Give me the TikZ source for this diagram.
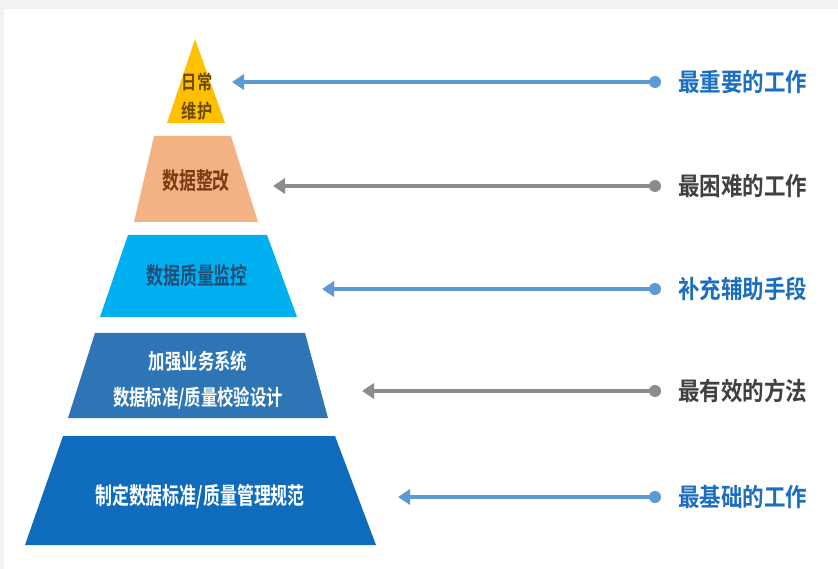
\documentclass[tikz,border=0pt]{standalone}
\usepackage{fontspec}
\setmainfont{Noto Sans CJK SC Bold}
\newfontfamily\fPyr[FakeStretch=0.72]{Noto Sans CJK SC Bold}
\newfontfamily\fMid[FakeStretch=0.76]{Noto Sans CJK SC Bold}
\newfontfamily\fTop[FakeStretch=0.78]{Noto Sans CJK SC Bold}
\newfontfamily\fSide[FakeStretch=0.86]{Noto Sans CJK SC Bold}
\usetikzlibrary{arrows.meta}
\definecolor{cYel}{HTML}{FFC000}
\definecolor{cOra}{HTML}{F4B183}
\definecolor{cLb}{HTML}{00B0F0}
\definecolor{cMb}{HTML}{2E75B6}
\definecolor{cDb}{HTML}{0F6CBD}
\definecolor{cArrB}{HTML}{5B9BD5}
\definecolor{cArrG}{HTML}{8C8C8C}
\definecolor{cTxB}{HTML}{1C6EBF}
\definecolor{cTxG}{HTML}{404040}
\definecolor{cBrown}{HTML}{7A3A12}
\definecolor{cYelTx}{HTML}{6B4A00}
\definecolor{cLbTx}{HTML}{1F4E79}
\definecolor{cBand}{HTML}{F2F2F2}
\tikzset{
  layertext/.style={font=\fPyr\fontsize{23.5}{28}\selectfont, align=center, inner sep=0pt},
  sidetext/.style={font=\fSide\fontsize{25}{28}\selectfont, anchor=west, inner sep=0pt},
  dotB/.style={circle, fill=cArrB, minimum size=12pt, inner sep=0pt},
  dotG/.style={circle, fill=cArrG, minimum size=12pt, inner sep=0pt},
  arrB/.style={draw=cArrB, line width=4.5pt, -{Triangle[length=12pt,width=15pt]}},
  arrG/.style={draw=cArrG, line width=4.5pt, -{Triangle[length=12pt,width=15pt]}}
}
\begin{document}
\begin{tikzpicture}[x=1pt,y=-1pt]
\useasboundingbox (0,0) rectangle (838,569);
\fill[white] (0,0) rectangle (838,569);
\fill[cBand] (0,0) rectangle (838,9);
\fill[cBand] (0,0) rectangle (4,569);
% pyramid layers
\fill[cYel] (195,39) -- (225,123) -- (167,123) -- cycle;
\fill[cOra] (154,136) -- (231,136) -- (258,222) -- (134,222) -- cycle;
\fill[cLb] (128,235) -- (267,235) -- (297,317) -- (100,317) -- cycle;
\fill[cMb] (95,333) -- (305,333) -- (328,418) -- (68,418) -- cycle;
\fill[cDb] (63,436) -- (335,436) -- (376,545) -- (25,545) -- cycle;
% layer texts
\node[layertext, text=cYelTx, font=\fTop\fontsize{19.5}{29}\selectfont] (l1) at (197,97) {日常\\维护};
\node[layertext, text=cBrown] (l2) at (196,181) {数据整改};
\node[layertext, text=cLbTx] (l3) at (197,276) {数据质量监控};
\node[layertext, text=white, font=\fMid\fontsize{21.5}{36}\selectfont] (l4) at (198,380) {加强业务系统\\数据标准/质量校验设计};
\node[layertext, text=white] (l5) at (200,497) {制定数据标准/质量管理规范};
% dots and side texts
\node[dotB] (d1) at (655,82) {};
\node[dotG] (d2) at (655,186) {};
\node[dotB] (d3) at (655,289) {};
\node[dotG] (d4) at (655,391) {};
\node[dotB] (d5) at (655,497) {};
\node[sidetext, text=cTxB] (t1) at (678,82) {最重要的工作};
\node[sidetext, text=cTxG] (t2) at (678,186) {最困难的工作};
\node[sidetext, text=cTxB] (t3) at (678,289) {补充辅助手段};
\node[sidetext, text=cTxG] (t4) at (678,391) {最有效的方法};
\node[sidetext, text=cTxB] (t5) at (678,497) {最基础的工作};
% arrow tips
\coordinate (e1) at (232,82);
\coordinate (e2) at (273,186);
\coordinate (e3) at (322,289);
\coordinate (e4) at (362,391);
\coordinate (e5) at (398,497);
\draw[arrB] (d1.center) -- (e1);
\draw[arrG] (d2.center) -- (e2);
\draw[arrB] (d3.center) -- (e3);
\draw[arrG] (d4.center) -- (e4);
\draw[arrB] (d5.center) -- (e5);
\end{tikzpicture}
\end{document}
